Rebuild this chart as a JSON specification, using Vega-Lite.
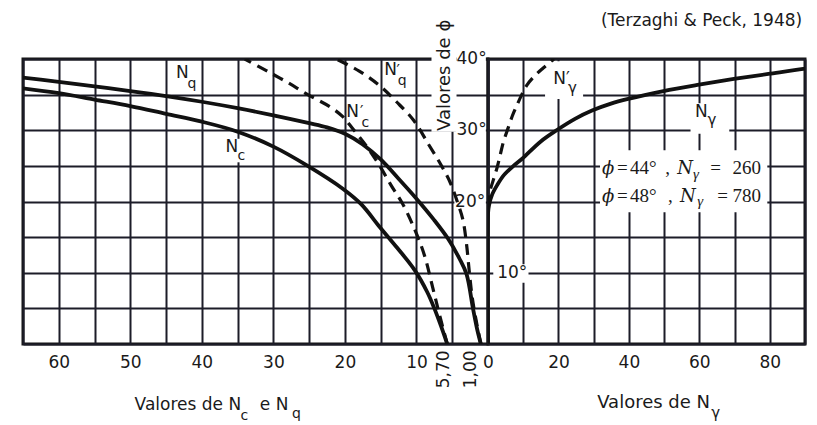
{
  "$schema": "https://vega.github.io/schema/vega-lite/v6.json",
  "background": "white",
  "padding": {"left": 21, "top": 10, "right": 10, "bottom": 0},
  "spacing": 0,
  "bounds": "flush",
  "config": {
    "view": {"stroke": "#151515", "strokeWidth": 3},
    "axis": {"gridColor": "#1c1c28", "gridWidth": 2, "gridOpacity": 1, "ticks": false, "tickSize": 0, "domain": false, "title": null, "labelFont": "DejaVu Sans", "labelFontSize": 17, "labelColor": "#1a1a1a", "labelOverlap": false, "labelFlush": false}
  },
  "hconcat": [
    {
      "width": 465,
      "height": 285,
      "encoding": {
        "x": {"field": "N", "type": "quantitative", "scale": {"domain": [0, 65], "reverse": true, "nice": false, "zero": false},
          "axis": {"values": [0, 5, 10, 15, 20, 25, 30, 35, 40, 45, 50, 55, 60, 65], "grid": true, "labelExpr": "datum.value % 10 === 0 && datum.value > 0 ? datum.label : ''", "labelBaseline": "middle", "labelPadding": 18}},
        "y": {"field": "phi", "type": "quantitative", "scale": {"domain": [0, 40], "nice": false},
          "axis": {"values": [0, 5, 10, 15, 20, 25, 30, 35, 40], "grid": true, "labels": false}}
      },
      "layer": [
        {
          "data": {"values": [
            {"N": 7.9, "N2": 4.4, "phi": 29.8, "phi2": 40.6},
            {"N": 4.4, "N2": 0.3, "phi": 38.4, "phi2": 40.6},
            {"N": 4.5, "N2": 0.3, "phi": 29.2, "phi2": 31.2},
            {"N": 4.7, "N2": 0.3, "phi": 18.9, "phi2": 21.1},
            {"N": 37.0, "N2": 33.2, "phi": 25.5, "phi2": 28.8}
          ]},
          "mark": {"type": "rect", "color": "white"},
          "encoding": {"x2": {"field": "N2"}, "y2": {"field": "phi2"}}
        },
        {
          "data": {"values": [
            {"c": "Nq", "N": 66, "phi": 37.5}, {"c": "Nq", "N": 60, "phi": 36.8}, {"c": "Nq", "N": 55, "phi": 36.15}, {"c": "Nq", "N": 50, "phi": 35.5}, {"c": "Nq", "N": 45, "phi": 34.8}, {"c": "Nq", "N": 40, "phi": 34.0}, {"c": "Nq", "N": 35, "phi": 33.1}, {"c": "Nq", "N": 30, "phi": 32.1}, {"c": "Nq", "N": 25, "phi": 31.0}, {"c": "Nq", "N": 22.5, "phi": 30.4}, {"c": "Nq", "N": 20, "phi": 29.5}, {"c": "Nq", "N": 17.5, "phi": 28.0}, {"c": "Nq", "N": 15, "phi": 25.9}, {"c": "Nq", "N": 12.5, "phi": 23.2}, {"c": "Nq", "N": 10, "phi": 20.4}, {"c": "Nq", "N": 7.6, "phi": 17.5}, {"c": "Nq", "N": 5.6, "phi": 14.8}, {"c": "Nq", "N": 4.0, "phi": 12.0}, {"c": "Nq", "N": 3.0, "phi": 9.8}, {"c": "Nq", "N": 2.1, "phi": 5.0}, {"c": "Nq", "N": 1.5, "phi": 2.0}, {"c": "Nq", "N": 1.0, "phi": 0},
            {"c": "Nc", "N": 66, "phi": 36.0}, {"c": "Nc", "N": 60, "phi": 35.2}, {"c": "Nc", "N": 55, "phi": 34.3}, {"c": "Nc", "N": 50, "phi": 33.4}, {"c": "Nc", "N": 45, "phi": 32.3}, {"c": "Nc", "N": 40, "phi": 31.2}, {"c": "Nc", "N": 35, "phi": 29.8}, {"c": "Nc", "N": 30, "phi": 27.7}, {"c": "Nc", "N": 25.2, "phi": 25.0}, {"c": "Nc", "N": 20.3, "phi": 21.8}, {"c": "Nc", "N": 17.7, "phi": 19.6}, {"c": "Nc", "N": 15.2, "phi": 16.5}, {"c": "Nc", "N": 12.7, "phi": 13.5}, {"c": "Nc", "N": 10.2, "phi": 10.3}, {"c": "Nc", "N": 8.5, "phi": 7.3}, {"c": "Nc", "N": 7.5, "phi": 5.0}, {"c": "Nc", "N": 6.6, "phi": 2.6}, {"c": "Nc", "N": 5.7, "phi": 0}
          ]},
          "mark": {"type": "line", "color": "#111", "strokeWidth": 3.8, "interpolate": "catmull-rom", "clip": true},
          "encoding": {"detail": {"field": "c"}, "order": {"field": "phi", "type": "quantitative"}}
        },
        {
          "data": {"values": [
            {"c": "N'c", "N": 34, "phi": 40}, {"c": "N'c", "N": 30.7, "phi": 38.2}, {"c": "N'c", "N": 28, "phi": 36.7}, {"c": "N'c", "N": 25.2, "phi": 35.0}, {"c": "N'c", "N": 22.1, "phi": 33.3}, {"c": "N'c", "N": 20.3, "phi": 31.9}, {"c": "N'c", "N": 18.9, "phi": 30.2}, {"c": "N'c", "N": 17, "phi": 27.8}, {"c": "N'c", "N": 15.2, "phi": 25.1}, {"c": "N'c", "N": 13.5, "phi": 22.2}, {"c": "N'c", "N": 12.0, "phi": 19.8}, {"c": "N'c", "N": 10.3, "phi": 16.2}, {"c": "N'c", "N": 8.9, "phi": 12.5}, {"c": "N'c", "N": 7.7, "phi": 7.8}, {"c": "N'c", "N": 6.7, "phi": 3.8}, {"c": "N'c", "N": 5.7, "phi": 0},
            {"c": "N'q", "N": 21.2, "phi": 40}, {"c": "N'q", "N": 18, "phi": 38.3}, {"c": "N'q", "N": 15.2, "phi": 36.3}, {"c": "N'q", "N": 12.8, "phi": 34.0}, {"c": "N'q", "N": 10.4, "phi": 31.4}, {"c": "N'q", "N": 8.3, "phi": 28.0}, {"c": "N'q", "N": 6.6, "phi": 25.2}, {"c": "N'q", "N": 5.3, "phi": 22.7}, {"c": "N'q", "N": 4.3, "phi": 20.0}, {"c": "N'q", "N": 3.5, "phi": 17.4}, {"c": "N'q", "N": 3.0, "phi": 14.0}, {"c": "N'q", "N": 2.6, "phi": 10.0}, {"c": "N'q", "N": 2.2, "phi": 6.5}, {"c": "N'q", "N": 1.6, "phi": 3.0}, {"c": "N'q", "N": 1.0, "phi": 0}
          ]},
          "mark": {"type": "line", "color": "#111", "strokeWidth": 3.2, "strokeDash": [11, 7], "interpolate": "catmull-rom", "clip": true},
          "encoding": {"detail": {"field": "c"}, "order": {"field": "phi", "type": "quantitative"}}
        },
        {
          "data": {"values": [
            {"t": "N", "N": 43.6, "phi": 37.3},
            {"t": "N", "N": 36.7, "phi": 26.9},
            {"t": "N", "N": 14.5, "phi": 37.75},
            {"t": "N", "N": 19.8, "phi": 31.9},
            {"t": "Valores de N", "N": 49.4, "phi": -9.26},
            {"t": "e N", "N": 31.9, "phi": -9.26}
          ]},
          "mark": {"type": "text", "font": "DejaVu Sans", "fontSize": 17, "align": "left", "baseline": "alphabetic", "color": "#1a1a1a"},
          "encoding": {"text": {"field": "t"}}
        },
        {
          "data": {"values": [
            {"t": "′", "N": 12.8, "phi": 37.6},
            {"t": "′", "N": 17.9, "phi": 31.8}
          ]},
          "mark": {"type": "text", "font": "DejaVu Sans", "fontSize": 15, "align": "left", "baseline": "alphabetic", "color": "#1a1a1a"},
          "encoding": {"text": {"field": "t"}}
        },
        {
          "data": {"values": [
            {"t": "q", "N": 42.0, "phi": 35.9},
            {"t": "c", "N": 35.0, "phi": 25.8},
            {"t": "q", "N": 12.6, "phi": 36.3},
            {"t": "c", "N": 17.7, "phi": 30.5},
            {"t": "c", "N": 34.6, "phi": -10.67},
            {"t": "q", "N": 27.4, "phi": -10.4}
          ]},
          "mark": {"type": "text", "font": "DejaVu Sans", "fontSize": 14, "align": "left", "baseline": "alphabetic", "color": "#1a1a1a"},
          "encoding": {"text": {"field": "t"}}
        },
        {
          "data": {"values": [
            {"t": "40°", "N": 4.4, "phi": 40},
            {"t": "30°", "N": 4.4, "phi": 30},
            {"t": "20°", "N": 4.6, "phi": 20}
          ]},
          "mark": {"type": "text", "font": "DejaVu Sans", "fontSize": 17, "align": "left", "baseline": "middle", "color": "#1a1a1a"},
          "encoding": {"text": {"field": "t"}}
        },
        {
          "data": {"values": [{"t": "Valores de ϕ", "N": 6.0, "phi": 29.9}]},
          "mark": {"type": "text", "font": "DejaVu Sans", "fontSize": 18, "angle": 270, "align": "left", "baseline": "middle", "color": "#1a1a1a"},
          "encoding": {"text": {"field": "t"}}
        },
        {
          "data": {"values": [
            {"t": "5,70", "N": 6.2, "phi": -0.9},
            {"t": "1,00", "N": 2.4, "phi": -0.9}
          ]},
          "mark": {"type": "text", "font": "DejaVu Sans", "fontSize": 17, "angle": 270, "align": "right", "baseline": "middle", "color": "#1a1a1a"},
          "encoding": {"text": {"field": "t"}}
        }
      ]
    },
    {
      "width": 317,
      "height": 285,
      "encoding": {
        "x": {"field": "Ngamma", "type": "quantitative", "scale": {"domain": [0, 90], "nice": false, "zero": false},
          "axis": {"values": [0, 10, 20, 30, 40, 50, 60, 70, 80, 90], "grid": true, "labelExpr": "datum.value % 20 === 0 && datum.value < 90 ? datum.label : ''", "labelBaseline": "middle", "labelPadding": 18}},
        "y": {"field": "phi", "type": "quantitative", "scale": {"domain": [0, 40], "nice": false},
          "axis": {"values": [0, 5, 10, 15, 20, 25, 30, 35, 40], "grid": true, "labels": false}}
      },
      "layer": [
        {
          "data": {"values": [
            {"Ngamma": 1.5, "Ngamma2": 11.5, "phi": 8.6, "phi2": 11.2},
            {"Ngamma": 16.2, "Ngamma2": 27.0, "phi": 34.4, "phi2": 39.7},
            {"Ngamma": 57.5, "Ngamma2": 68.5, "phi": 29.5, "phi2": 33.8},
            {"Ngamma": 31.8, "Ngamma2": 79.3, "phi": 18.5, "phi2": 27.2}
          ]},
          "mark": {"type": "rect", "color": "white"},
          "encoding": {"x2": {"field": "Ngamma2"}, "y2": {"field": "phi2"}}
        },
        {
          "data": {"values": [
            {"Ngamma": 0, "phi": 0}, {"Ngamma": 0, "phi": 18.3}, {"Ngamma": 0.3, "phi": 19.5}, {"Ngamma": 1.2, "phi": 21.0}, {"Ngamma": 2.6, "phi": 22.3}, {"Ngamma": 4.5, "phi": 23.7}, {"Ngamma": 7.0, "phi": 24.9}, {"Ngamma": 9.7, "phi": 26.0}, {"Ngamma": 14.9, "phi": 28.4}, {"Ngamma": 19.8, "phi": 30.1}, {"Ngamma": 24.7, "phi": 31.6}, {"Ngamma": 29.7, "phi": 32.8}, {"Ngamma": 34.7, "phi": 33.7}, {"Ngamma": 39.8, "phi": 34.4}, {"Ngamma": 49.8, "phi": 35.5}, {"Ngamma": 59.9, "phi": 36.4}, {"Ngamma": 69.8, "phi": 37.2}, {"Ngamma": 79.6, "phi": 37.9}, {"Ngamma": 89.5, "phi": 38.6}, {"Ngamma": 93, "phi": 38.8}
          ]},
          "mark": {"type": "line", "color": "#111", "strokeWidth": 3.8, "interpolate": "catmull-rom", "clip": true},
          "encoding": {"order": {"field": "phi", "type": "quantitative"}}
        },
        {
          "data": {"values": [
            {"Ngamma": 0, "phi": 19.3}, {"Ngamma": 0.6, "phi": 21.5}, {"Ngamma": 1.5, "phi": 23.0}, {"Ngamma": 2.6, "phi": 24.8}, {"Ngamma": 3.5, "phi": 26.6}, {"Ngamma": 4.4, "phi": 28.4}, {"Ngamma": 5.7, "phi": 30.3}, {"Ngamma": 6.9, "phi": 32.0}, {"Ngamma": 8.2, "phi": 33.5}, {"Ngamma": 9.6, "phi": 35.0}, {"Ngamma": 11.0, "phi": 36.3}, {"Ngamma": 13.2, "phi": 37.6}, {"Ngamma": 15.6, "phi": 38.7}, {"Ngamma": 18.0, "phi": 39.7}, {"Ngamma": 18.7, "phi": 40}
          ]},
          "mark": {"type": "line", "color": "#111", "strokeWidth": 3.2, "strokeDash": [11, 7], "interpolate": "catmull-rom", "clip": true},
          "encoding": {"order": {"field": "phi", "type": "quantitative"}}
        },
        {
          "data": {"values": [
            {"t": "N′", "Ngamma": 18.5, "phi": 36.5},
            {"t": "N", "Ngamma": 58.8, "phi": 31.9}
          ]},
          "mark": {"type": "text", "font": "DejaVu Sans", "fontSize": 17, "align": "left", "baseline": "alphabetic", "color": "#1a1a1a"},
          "encoding": {"text": {"field": "t"}}
        },
        {
          "data": {"values": [{"t": "Valores de N", "Ngamma": 31.0, "phi": -8.98}]},
          "mark": {"type": "text", "font": "DejaVu Sans", "fontSize": 18, "align": "left", "baseline": "alphabetic", "color": "#1a1a1a"},
          "encoding": {"text": {"field": "t"}}
        },
        {
          "data": {"values": [
            {"t": "γ", "Ngamma": 22.7, "phi": 35.2},
            {"t": "γ", "Ngamma": 62.3, "phi": 30.7},
            {"t": "γ", "Ngamma": 63.4, "phi": -10.4}
          ]},
          "mark": {"type": "text", "font": "DejaVu Sans", "fontSize": 15, "align": "left", "baseline": "alphabetic", "color": "#1a1a1a"},
          "encoding": {"text": {"field": "t"}}
        },
        {
          "data": {"values": [{"t": "10°", "Ngamma": 2.6, "phi": 10}]},
          "mark": {"type": "text", "font": "DejaVu Sans", "fontSize": 17, "align": "left", "baseline": "middle", "color": "#1a1a1a"},
          "encoding": {"text": {"field": "t"}}
        },
        {
          "data": {"values": [
            {"t": "=", "Ngamma": 36.6, "phi": 23.86},
            {"t": "44°", "Ngamma": 40.3, "phi": 23.86},
            {"t": ",", "Ngamma": 50.3, "phi": 23.86},
            {"t": "=", "Ngamma": 63.1, "phi": 23.86},
            {"t": "260", "Ngamma": 69.4, "phi": 23.86},
            {"t": "=", "Ngamma": 36.6, "phi": 19.93},
            {"t": "48°", "Ngamma": 40.3, "phi": 19.93},
            {"t": ",", "Ngamma": 51.1, "phi": 19.93},
            {"t": "=", "Ngamma": 65.1, "phi": 19.93},
            {"t": "780", "Ngamma": 69.4, "phi": 19.93}
          ]},
          "mark": {"type": "text", "font": "Liberation Serif", "fontSize": 19, "align": "left", "baseline": "alphabetic", "color": "#1a1a1a"},
          "encoding": {"text": {"field": "t"}}
        },
        {
          "data": {"values": [
            {"t": "ϕ", "Ngamma": 32.4, "phi": 23.86},
            {"t": "N", "Ngamma": 53.7, "phi": 23.86},
            {"t": "ϕ", "Ngamma": 32.4, "phi": 19.93},
            {"t": "N", "Ngamma": 54.5, "phi": 19.93}
          ]},
          "mark": {"type": "text", "font": "DejaVu Serif", "fontSize": 18, "fontStyle": "italic", "align": "left", "baseline": "alphabetic", "color": "#1a1a1a"},
          "encoding": {"text": {"field": "t"}}
        },
        {
          "data": {"values": [
            {"t": "γ", "Ngamma": 58.2, "phi": 23.2},
            {"t": "γ", "Ngamma": 59.4, "phi": 19.3}
          ]},
          "mark": {"type": "text", "font": "Liberation Serif", "fontSize": 15, "fontStyle": "italic", "align": "left", "baseline": "alphabetic", "color": "#1a1a1a"},
          "encoding": {"text": {"field": "t"}}
        },
        {
          "data": {"values": [{"t": "(Terzaghi & Peck, 1948)", "Ngamma": 89.2, "phi": 45.3}]},
          "mark": {"type": "text", "font": "DejaVu Sans", "fontSize": 17, "align": "right", "baseline": "middle", "color": "#1a1a1a"},
          "encoding": {"text": {"field": "t"}}
        }
      ]
    }
  ]
}
